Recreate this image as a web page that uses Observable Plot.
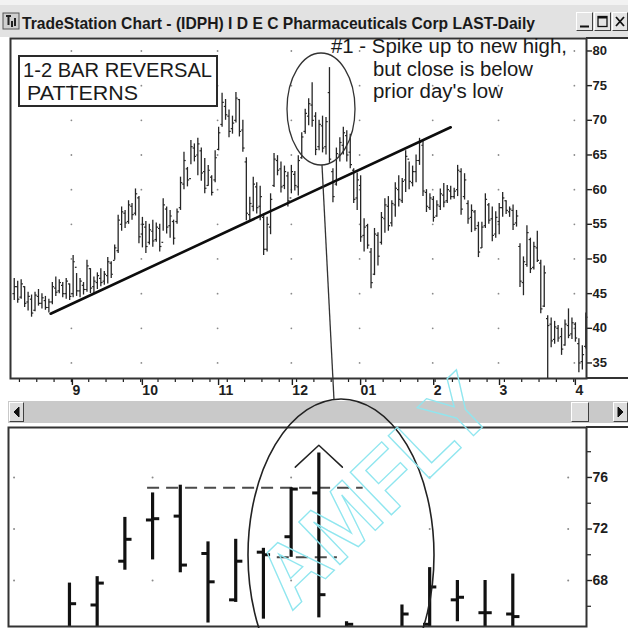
<!DOCTYPE html>
<html><head><meta charset="utf-8">
<script src="https://cdn.jsdelivr.net/npm/d3@7"></script>
<script src="https://cdn.jsdelivr.net/npm/@observablehq/plot@0.6"></script>
<style>
html,body{margin:0;padding:0;background:#fff;}
#wrap{position:relative;width:628px;height:628px;overflow:hidden;background:#fff;font-family:"Liberation Sans",Arial,sans-serif;}
.abs{position:absolute;}
.btn{position:absolute;box-sizing:border-box;background:#e4e4e4;border:1px solid;border-color:#fff #404040 #404040 #fff;}
</style></head><body>
<div id="wrap">
  <div class="abs" style="left:0;top:0;width:628px;height:37px;background:#e2e2e2;"></div>
  <div class="abs" style="left:0;top:0;width:628px;height:5px;background:#f2f2f2;"></div>
  <div class="btn" style="left:576px;top:12px;width:17px;height:19px;"></div>
  <div class="btn" style="left:594px;top:12px;width:17px;height:19px;"></div>
  <div class="btn" style="left:612px;top:12px;width:16px;height:19px;"></div>
  <div class="abs" style="left:586px;top:37px;width:42px;height:2px;background:#333;"></div>
  <div class="abs" style="left:586px;top:377px;width:42px;height:2px;background:#333;"></div>
  <div class="abs" style="left:8px;top:401px;width:620px;height:22px;background:#c9c9c9;"></div>
  <div class="btn" style="left:9px;top:402px;width:15px;height:20px;background:#dcdcdc;"></div>
  <div class="btn" style="left:571px;top:402px;width:18px;height:20px;background:#dcdcdc;"></div>
  <div class="btn" style="left:613px;top:402px;width:15px;height:20px;background:#dcdcdc;"></div>
  <div id="upper" class="abs" style="left:0;top:0;"></div>
  <div id="lower" class="abs" style="left:0;top:424px;"></div>
  <div class="abs" style="left:586px;top:426px;width:42px;height:2px;background:#333;"></div>
  <svg id="overlay" class="abs" style="left:0;top:0;pointer-events:none" width="628" height="628"></svg>
</div>
<script>
// ---------- upper panel data (daily bars) ----------
const highs = [47.2,46.8,47.0,46.0,45.2,44.8,45.2,45.6,45.0,44.6,
 44.2,46.6,47.4,47.0,46.6,47.2,46.4,50.5,47.9,47.2,
 46.6,49.8,48.6,47.4,48.0,48.6,48.2,50.2,49.6,52.0,
 56.3,57.5,57.0,58.4,58.0,60.1,59.0,56.0,55.4,55.0,
 55.6,55.2,55.0,58.7,57.5,57.0,55.6,57.2,61.8,65.4,
 63.2,67.1,66.6,67.4,66.0,64.5,63.5,62.0,65.6,69.0,
 73.9,73.0,71.5,70.6,74.0,73.0,70.0,64.6,58.9,61.8,
 61.0,60.5,56.5,56.0,59.4,65.2,64.9,64.0,63.4,62.5,
 63.5,62.6,64.9,68.2,71.6,73.1,75.4,71.1,70.0,70.6,
 70.4,77.6,63.0,66.0,67.5,69.0,68.5,68.0,63.0,62.4,
 62.0,55.8,55.0,51.5,54.4,53.8,56.7,58.7,59.0,58.4,
 61.0,62.0,61.6,65.6,64.0,63.4,65.0,67.4,67.0,60.0,
 59.4,59.0,58.4,60.1,60.9,60.6,60.5,60.2,63.5,63.0,
 62.3,58.4,57.8,57.0,55.3,55.3,59.4,58.0,57.5,56.8,
 58.0,59.6,58.4,57.5,57.8,57.0,52.2,50.3,54.8,53.0,
 52.4,54.0,49.8,49.0,41.8,41.5,41.0,40.4,40.0,41.2,
 42.8,41.5,40.8,38.5,37.5,42.2];
const lows = [44.0,43.6,44.2,43.0,42.5,41.6,42.4,43.2,42.8,42.6,
 42.2,43.4,44.6,45.0,44.4,44.2,44.0,44.4,44.6,44.4,
 44.8,45.2,45.0,45.0,45.6,46.0,46.2,46.4,47.2,49.8,
 50.8,54.0,54.4,55.0,55.6,56.2,52.2,51.6,50.8,52.0,
 51.7,52.4,51.0,54.0,53.6,53.0,52.0,55.0,57.0,60.0,
 60.4,63.6,64.0,62.0,61.2,59.4,60.5,59.1,61.0,65.6,
 69.0,70.0,67.5,68.0,69.6,67.6,65.4,55.5,55.5,56.8,
 56.5,55.5,50.5,51.0,53.5,60.3,62.0,59.5,60.0,57.5,
 59.4,59.8,59.1,64.4,68.0,69.2,69.0,64.9,65.6,65.3,
 65.0,63.8,58.1,60.5,64.0,65.0,64.0,63.0,58.0,57.0,
 52.4,51.0,51.4,45.7,47.6,49.0,52.0,53.7,54.0,54.6,
 56.0,57.5,58.0,59.6,60.0,60.4,61.0,63.5,59.0,56.7,
 57.0,55.3,56.0,57.0,57.4,58.0,58.5,58.6,59.0,56.3,
 58.5,55.0,53.8,54.0,50.2,51.5,54.4,55.0,52.5,53.0,
 53.5,56.0,56.4,56.0,54.1,54.6,45.9,44.7,48.8,47.9,
 48.4,49.5,42.1,43.0,32.5,37.2,37.7,38.0,36.1,37.4,
 38.5,38.4,38.0,33.6,34.0,37.0];
const opens = [45.0,46.0,44.5,46.0,43.8,44.2,42.6,44.6,43.6,44.0,
 43.0,43.8,45.8,45.4,46.2,45.0,46.4,45.0,48.8,45.4,
 46.2,45.6,48.6,46.0,46.6,47.2,46.8,47.6,49.4,49.8,
 51.2,55.0,56.6,55.4,57.6,56.6,58.8,53.6,54.6,52.4,
 54.0,52.8,54.4,52.4,57.2,54.8,55.4,55.4,57.4,60.8,
 63.0,61.6,66.0,65.0,65.6,62.6,60.6,61.8,61.4,65.8,
 69.4,72.0,70.6,68.8,70.0,73.0,68.6,64.0,56.4,57.6,
 60.4,57.6,56.0,51.4,54.6,60.6,64.2,63.0,60.6,62.0,
 58.8,62.2,60.4,64.6,68.4,70.6,72.2,70.6,66.2,69.2,
 66.2,74.0,62.6,60.8,65.0,66.4,67.8,65.4,62.8,58.8,
 60.6,53.4,54.8,51.0,47.8,53.4,52.4,55.8,57.6,55.2,
 57.8,60.0,58.4,61.4,64.4,61.0,62.6,64.2,66.4,59.6,
 57.4,58.6,56.2,57.6,59.2,58.4,59.8,59.0,60.0,62.6,
 59.0,58.0,56.0,56.8,54.8,51.6,54.8,57.8,55.8,53.6,
 55.4,57.4,58.4,56.8,57.0,55.2,51.8,46.6,49.2,52.8,
 48.8,51.6,49.4,43.2,41.4,40.6,38.4,40.0,38.8,37.6,
 40.4,39.2,40.6,37.8,35.2,37.4];
const closes = [46.0,44.2,46.4,43.6,44.6,42.2,44.8,43.6,44.4,43.0,
 43.8,46.0,45.2,46.6,45.0,46.8,44.6,49.6,45.4,46.8,
 45.6,49.0,45.8,46.8,47.6,46.6,47.8,49.6,47.8,51.6,
 55.6,56.8,55.2,57.8,56.4,59.4,53.2,55.0,51.8,54.2,
 52.6,54.6,51.8,57.8,54.6,56.2,53.0,56.8,61.0,64.2,
 61.4,66.2,64.8,66.6,62.4,60.2,62.8,59.6,64.6,68.2,
 72.6,70.8,68.4,69.6,73.2,68.4,66.0,56.6,58.0,60.8,
 57.4,59.0,51.4,55.0,58.6,64.4,62.8,60.4,62.6,58.4,
 62.6,60.6,64.2,67.6,71.0,72.4,70.0,65.8,69.4,66.0,
 69.8,64.4,59.0,65.2,66.8,68.2,65.0,63.6,58.6,61.4,
 53.2,54.6,52.0,46.6,53.6,50.4,56.0,57.8,54.8,58.0,
 60.2,58.6,61.2,64.8,61.2,62.6,64.2,66.8,59.8,57.6,
 58.8,56.0,57.8,59.4,58.2,60.0,59.0,59.8,62.8,57.2,
 61.4,55.8,57.0,54.4,51.0,54.6,58.6,55.6,53.4,56.0,
 57.4,58.8,57.0,57.2,55.0,56.2,46.8,49.6,53.8,48.6,
 51.8,49.8,42.8,48.0,40.4,38.2,40.2,38.6,37.0,40.6,
 39.0,40.8,38.6,35.0,36.2,41.6];
const monthTicks = [16.5, 36.7, 58.7, 80.0, 99.7, 120.8, 139.8, 161.7];
const monthLabels = ["9","10","11","12","01","2","3","4"];
const priceTicks = [35,40,45,50,55,60,65,70,75,80];
const trendline = [{i:10.5, v:42.1},{i:126, v:69.0}];

// ---------- lower panel data (zoomed bars) ----------
const zoomHighs  = [67.8,68.3,72.9,74.8,75.4,71.0,71.2,70.5,75.2,77.9,64.8,63.8,66.1,69.0,68.0,68.0,68.5];
const zoomLows   = [63.5,63.8,68.8,69.6,68.6,64.7,66.3,65.0,69.8,65.1,62.0,61.5,63.0,64.4,64.8,64.0,64.0];
const zoomOpens  = [64.2,66.1,69.5,72.7,73.0,70.1,66.5,70.2,71.4,74.8,63.5,62.5,64.0,64.6,66.5,65.5,65.4];
const zoomCloses = [66.2,67.8,71.2,72.8,69.2,67.9,69.5,70.0,75.1,66.9,64.6,63.0,65.4,67.5,66.7,65.5,65.2];
const zoomGridX = [-2,3,8,13,18];
const zoomLabelTicks = [68,72,76];
const zoomMinorTicks = [66,70,74,78];
const zoomLevels = [{from:2.82, to:10.6, v:75.2},{from:7.5, to:9.67, v:69.8}];
const caret = [{i:8.15, v:76.8},{i:9.0, v:78.5},{i:9.85, v:76.8}];

const ink = "#262626";
const bars = highs.map((h,i)=>({i, high:h, low:lows[i], open:opens[i], close:closes[i]}));
const gridPts = monthTicks.flatMap(i => priceTicks.map(v => ({i, v})));
const weekTicks = d3.range(1.5, 165, 5);

const upper = Plot.plot({
  width: 628, height: 400,
  marginLeft: 10, marginRight: 42, marginTop: 38, marginBottom: 22,
  x: {domain: [-1.08, 165.2]},
  y: {domain: [32.76, 81.8]},
  style: {background: "transparent", overflow: "visible", color: "#1e1e1e", fontFamily: "Liberation Sans, Arial, sans-serif", fontWeight: "bold"},
  marks: [
    Plot.dot(gridPts, {x: "i", y: "v", r: 0.9, fill: "#8a8a8a", stroke: null}),
    Plot.ruleX(bars, {x: "i", y1: "low", y2: "high", stroke: ink, strokeWidth: 1.3, clip: true}),
    Plot.link(bars, {x1: d => d.i - 0.5, x2: "i", y1: "open", y2: "open", stroke: ink, strokeWidth: 1.2}),
    Plot.link(bars, {x1: "i", x2: d => d.i + 0.5, y1: "close", y2: "close", stroke: ink, strokeWidth: 1.2}),
    Plot.line(trendline, {x: "i", y: "v", stroke: "#0d0d0d", strokeWidth: 2.6}),
    Plot.axisY({anchor: "right", ticks: priceTicks, tickSize: 5, tickPadding: 1, label: null, fontSize: 13, strokeWidth: 1.4}),
    Plot.axisX({ticks: weekTicks, tickSize: 4, tickFormat: () => "", label: null, strokeWidth: 1.2}),
    Plot.axisX({ticks: monthTicks, tickSize: 7, tickPadding: 0, label: null, fontSize: 14, textAnchor: "start", dx: 1,
      tickFormat: d => monthLabels[monthTicks.indexOf(d)], strokeWidth: 1.4}),
    Plot.frame({stroke: "#333", strokeWidth: 2})
  ]
});
document.getElementById("upper").appendChild(upper);

const zbars = zoomHighs.map((h,i)=>({i, high:h, low:zoomLows[i], open:zoomOpens[i], close:zoomCloses[i]}));
const zgrid = zoomGridX.flatMap(i => zoomLabelTicks.map(v => ({i, v})));
const lower = Plot.plot({
  width: 628, height: 204,
  marginLeft: 8, marginRight: 42, marginTop: 3, marginBottom: 2,
  x: {domain: [-2.2, 18.66], axis: null},
  y: {domain: [64.43, 79.88]},
  style: {background: "transparent", overflow: "visible", color: "#1e1e1e", fontFamily: "Liberation Sans, Arial, sans-serif", fontWeight: "bold"},
  marks: [
    Plot.dot(zgrid, {x: "i", y: "v", r: 1, fill: "#8a8a8a", stroke: null}),
    Plot.ruleY(zoomLevels, {y: "v", x1: "from", x2: "to", stroke: "#4a4a4a", strokeWidth: 2, strokeDasharray: "12,7"}),
    Plot.ruleX(zbars, {x: "i", y1: "low", y2: "high", stroke: "#111", strokeWidth: 3.2, clip: true}),
    Plot.link(zbars, {x1: d => d.i - 0.24, x2: "i", y1: "open", y2: "open", stroke: "#111", strokeWidth: 3, clip: true}),
    Plot.link(zbars, {x1: "i", x2: d => d.i + 0.24, y1: "close", y2: "close", stroke: "#111", strokeWidth: 3, clip: true}),
    Plot.line(caret, {x: "i", y: "v", stroke: "#222", strokeWidth: 1.5}),
    Plot.axisY({anchor: "right", ticks: zoomMinorTicks, tickSize: 4, tickFormat: () => "", label: null, strokeWidth: 1.2}),
    Plot.axisY({anchor: "right", ticks: zoomLabelTicks, tickSize: 5, tickPadding: 1, label: null, fontSize: 14, strokeWidth: 1.4}),
    Plot.frame({stroke: "#333", strokeWidth: 2})
  ]
});
document.getElementById("lower").appendChild(lower);

// ---------- overlay: window chrome text and hand-drawn annotations ----------
const ov = document.getElementById("overlay");
ov.innerHTML = `
 <g font-family="Liberation Sans, Arial, sans-serif">
  <rect x="3" y="13" width="16" height="16" fill="#cfcfcf" stroke="#555" stroke-width="1"/>
  <path d="M6 16 h5 M8.5 16 v9 M12 21 v6 M15 18 v8" stroke="#222" stroke-width="2" fill="none"/>
  <text x="22" y="29" font-size="17" font-weight="bold" fill="#1a1a1a" textLength="513" lengthAdjust="spacingAndGlyphs">TradeStation Chart - (IDPH) I D E C Pharmaceuticals Corp LAST-Daily</text>
  <path d="M580 26.5 h9" stroke="#111" stroke-width="2"/>
  <rect x="598" y="16.5" width="9" height="10" fill="none" stroke="#111" stroke-width="1.3"/>
  <path d="M598 17.5 h9" stroke="#111" stroke-width="2"/>
  <path d="M616 17 l8 9 M624 17 l-8 9" stroke="#111" stroke-width="1.8"/>
  <path d="M19 407 l-5 5 l5 5 z" fill="#111" stroke="#111" stroke-width="1"/>
  <path d="M618 407 l5 5 l-5 5 z" fill="#111" stroke="#111" stroke-width="1"/>

  <rect x="19" y="56" width="198" height="50" fill="none" stroke="#2a2a2a" stroke-width="2"/>
  <text x="23" y="77" font-size="21" fill="#1a1a1a" textLength="189" lengthAdjust="spacingAndGlyphs">1-2 BAR REVERSAL</text>
  <text x="27" y="100" font-size="21" fill="#1a1a1a" textLength="111" lengthAdjust="spacingAndGlyphs">PATTERNS</text>

  <text x="331" y="53" font-size="20" fill="#1a1a1a" textLength="236" lengthAdjust="spacingAndGlyphs">#1 - Spike up to new high,</text>
  <text x="373" y="75.5" font-size="20" fill="#1a1a1a" textLength="160" lengthAdjust="spacingAndGlyphs">but close is below</text>
  <text x="373" y="98" font-size="20" fill="#1a1a1a" textLength="130" lengthAdjust="spacingAndGlyphs">prior day's low</text>

  <ellipse cx="321" cy="109" rx="34" ry="56" fill="none" stroke="#333" stroke-width="1.3"/>
  <path d="M322 165 L334 400" stroke="#333" stroke-width="1.3" fill="none"/>
  <ellipse cx="341" cy="555" rx="93" ry="156" fill="none" stroke="#222" stroke-width="1.6"/>

  <text x="374" y="490" font-size="86" font-weight="bold" fill="none" stroke="#8fe6ef" stroke-width="1.3"
        text-anchor="middle" dominant-baseline="central" transform="rotate(-44 374 490)">AMFLY</text>
 </g>`;
</script>
</body></html>
